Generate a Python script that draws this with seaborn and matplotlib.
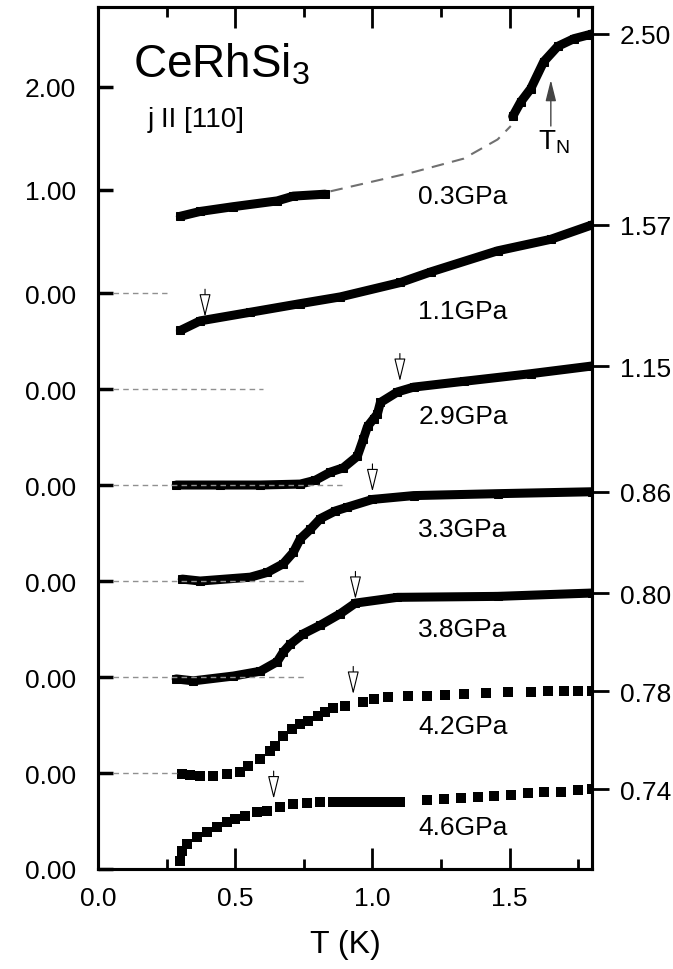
import numpy as np
import matplotlib
matplotlib.use('Agg')
import matplotlib.pyplot as plt
from matplotlib.ticker import MultipleLocator
import seaborn as sns

# ---- data (rho relative to its own baseline, T in K) ----
pressures = ['0.3GPa', '1.1GPa', '2.9GPa', '3.3GPa', '3.8GPa', '4.2GPa', '4.6GPa']
offsets = [6, 5, 4, 3, 2, 1, 0]

T_03_low = [0.30, 0.372, 0.493, 0.653, 0.712, 0.828]
r_03_low = [0.80, 0.85, 0.90, 0.96, 1.01, 1.03]
T_03_high = [1.511, 1.54, 1.577, 1.624, 1.675, 1.734, 1.788, 1.80]
r_03_high = [1.84, 1.99, 2.13, 2.41, 2.57, 2.65, 2.69, 2.70]
T_03_guide = [0.847, 1.15, 1.332, 1.456, 1.504]
r_03_guide = [1.06, 1.26, 1.40, 1.60, 1.74]

T_11 = [0.30, 0.372, 0.555, 0.737, 0.883, 1.102, 1.212, 1.456, 1.65, 1.80]
r_11 = [0.61, 0.71, 0.80, 0.89, 0.96, 1.11, 1.22, 1.44, 1.56, 1.71]

T_29 = [0.285, 0.445, 0.591, 0.737, 0.792, 0.847, 0.894, 0.945, 0.967, 0.982,
        1.004, 1.018, 1.029, 1.091, 1.15, 1.332, 1.577, 1.80]
r_29 = [0.0, 0.0, 0.0, 0.01, 0.05, 0.135, 0.18, 0.30, 0.48, 0.61,
        0.69, 0.74, 0.86, 0.97, 1.02, 1.08, 1.16, 1.24]

T_33 = [0.307, 0.372, 0.555, 0.617, 0.675, 0.712, 0.737, 0.774, 0.81, 0.865,
        0.909, 1.0, 1.15, 1.456, 1.80]
r_33 = [0.02, 0.0, 0.04, 0.09, 0.18, 0.30, 0.44, 0.54, 0.65, 0.73,
        0.77, 0.85, 0.89, 0.91, 0.93]

T_38 = [0.285, 0.347, 0.493, 0.591, 0.653, 0.675, 0.70, 0.748, 0.81, 0.883,
        0.938, 1.091, 1.456, 1.80]
r_38 = [-0.02, -0.04, 0.01, 0.06, 0.16, 0.26, 0.34, 0.45, 0.54, 0.66,
        0.77, 0.83, 0.84, 0.875]

T_42 = [0.307, 0.336, 0.372, 0.42, 0.471, 0.518, 0.547, 0.591, 0.628, 0.646,
        0.675, 0.708, 0.737, 0.766, 0.80, 0.828, 0.858, 0.901, 0.967, 1.004,
        1.058, 1.131, 1.20, 1.266, 1.332, 1.412, 1.493, 1.577, 1.639, 1.697,
        1.748, 1.80]
r_42 = [-0.01, -0.02, -0.03, -0.03, -0.01, 0.01, 0.07, 0.15, 0.23, 0.28,
        0.385, 0.46, 0.51, 0.54, 0.59, 0.635, 0.68, 0.70, 0.74, 0.77,
        0.79, 0.80, 0.80, 0.81, 0.82, 0.83, 0.84, 0.84, 0.85, 0.85,
        0.85, 0.85]

T_46 = [0.30, 0.307, 0.325, 0.361, 0.398, 0.434, 0.471, 0.50, 0.536, 0.58,
        0.617, 0.664, 0.712, 0.763, 0.81, 0.858, 0.89, 0.92, 0.95, 0.98,
        1.01, 1.04, 1.07, 1.102, 1.20, 1.259, 1.321, 1.383, 1.442, 1.504,
        1.566, 1.624, 1.686, 1.748, 1.80]
r_46 = [0.08, 0.19, 0.26, 0.33, 0.385, 0.44, 0.49, 0.52, 0.55, 0.59,
        0.60, 0.65, 0.68, 0.69, 0.70, 0.70, 0.70, 0.70, 0.70, 0.70,
        0.70, 0.70, 0.70, 0.70, 0.72, 0.73, 0.74, 0.75, 0.76, 0.77,
        0.79, 0.80, 0.80, 0.82, 0.83]

# transition markers (arrows) for 1.1 ... 4.6 GPa
arrow_T = [0.39, 1.10, 1.00, 0.938, 0.93, 0.64]
arrow_r = [0.75, 1.08, 0.93, 0.81, 0.82, 0.73]
T_N = 1.65

# dashed zero lines for the lower curves
zero_end_T = [0.25, 0.60, 0.89, 0.75, 0.75, 0.29]

left_labels = ['0.00'] * 7 + ['1.00', '2.00']
right_labels = ['2.50', '1.57', '1.15', '0.86', '0.80', '0.78', '0.74']
top_scale = 1.075

# ---- plot ----
sns.set_style('ticks')
plt.rcParams['font.family'] = ['Liberation Sans', 'DejaVu Sans']
plt.rcParams['mathtext.fontset'] = 'custom'
plt.rcParams['mathtext.rm'] = 'Liberation Sans'
plt.rcParams['mathtext.it'] = 'Liberation Sans'
for k in ['text.color', 'axes.labelcolor', 'xtick.color', 'ytick.color', 'axes.edgecolor']:
    plt.rcParams[k] = 'black'

fig = plt.figure(figsize=(6.73, 9.70), dpi=100)
ax = fig.add_axes([98 / 673, 100 / 970, 494 / 673, 862 / 970])

curves = [(T_11, r_11), (T_29, r_29), (T_33, r_33), (T_38, r_38)]
for (T, r), off in zip(curves, offsets[1:5]):
    sns.lineplot(x=T, y=np.array(r) + off, ax=ax, color='black', lw=6.5,
                 sort=False, estimator=None, marker='s', ms=6, mec='black')

off = offsets[0]
sns.lineplot(x=T_03_low, y=np.array(r_03_low) + off, ax=ax, color='black', lw=6.5,
             sort=False, estimator=None, marker='s', ms=6, mec='black')
sns.lineplot(x=T_03_high, y=np.array(r_03_high) + off, ax=ax, color='black', lw=6.5,
             sort=False, estimator=None, marker='s', ms=6, mec='black')
sns.lineplot(x=T_03_guide, y=np.array(r_03_guide) + off, ax=ax, color='#707070',
             lw=1.5, sort=False, estimator=None, linestyle=(0, (6, 4)))

for T, r, off in [(T_42, r_42, offsets[5]), (T_46, r_46, offsets[6])]:
    sns.scatterplot(x=T, y=np.array(r) + off, ax=ax, color='black', marker='s',
                    s=42, linewidth=0)

for end, off in zip(zero_end_T, offsets[:6]):
    ax.plot([0.055, end], [off, off], color='#909090', lw=1.0, ls=(0, (4, 3)))

for t, r, off in zip(arrow_T, arrow_r, offsets[1:]):
    ax.annotate('', xy=(t, r + off), xytext=(t, r + off + 0.29),
                arrowprops=dict(arrowstyle='-|>,head_length=0.9,head_width=0.22',
                                fc='white', ec='black', lw=0.8, mutation_scale=16,
                                shrinkA=0, shrinkB=0))

ax.annotate('', xy=(T_N, 8.22), xytext=(T_N, 7.74),
            arrowprops=dict(arrowstyle='-|>,head_length=0.8,head_width=0.2',
                            fc='#444444', ec='#444444', lw=1.0, mutation_scale=16,
                            shrinkA=0, shrinkB=0))
ax.text(T_N + 0.01, 7.58, r'T$_\mathregular{N}$', fontsize=20, ha='center', va='center')

label_rel = [1.01, 0.81, 0.72, 0.54, 0.50, 0.49, 0.44]
for name, off, rr in zip(pressures, offsets, label_rel):
    ax.text(1.33, off + rr, name, fontsize=19, ha='center', va='center')

ax.text(0.128, 8.39, r'CeRhSi$_3$', fontsize=33, ha='left', va='center')
ax.text(0.18, 7.81, 'j II [110]', fontsize=20, ha='left', va='center')

ax.set_xlim(0, 1.80)
ax.set_ylim(0, 8.98)
ax.xaxis.set_major_locator(MultipleLocator(0.5))
ax.xaxis.set_minor_locator(MultipleLocator(0.25))
ax.set_xticks([0.0, 0.5, 1.0, 1.5])
ax.set_xticklabels(['0.0', '0.5', '1.0', '1.5'])
left_pos = [0, 1, 2, 3, 4, 5, 6, 6 + top_scale, 6 + 2 * top_scale]
ax.set_yticks(left_pos)
ax.set_yticklabels(left_labels)
ax.tick_params(axis='x', which='both', direction='in', top=True, labelsize=19,
               pad=12, width=2)
ax.tick_params(axis='x', which='major', length=15)
ax.tick_params(axis='x', which='minor', length=7)
ax.tick_params(axis='y', direction='in', length=11, width=2.5, labelsize=19, pad=16)
ax.set_xlabel('T (K)', fontsize=23, labelpad=14)
ax.set_ylabel('')

ax2 = ax.twinx()
ax2.set_ylim(ax.get_ylim())
ends = [r_03_high[-1], r_11[-1], r_29[-1], r_33[-1], r_38[-1], r_42[-1], r_46[-1]]
ax2.set_yticks([e + o for e, o in zip(ends, offsets)])
ax2.set_yticklabels(right_labels)
ax2.tick_params(axis='y', direction='out', length=12, width=2, labelsize=19, pad=8)

for a in (ax, ax2):
    for s in a.spines.values():
        s.set_linewidth(2.2)
        s.set_visible(True)

fig.savefig('out.png', dpi=100)
